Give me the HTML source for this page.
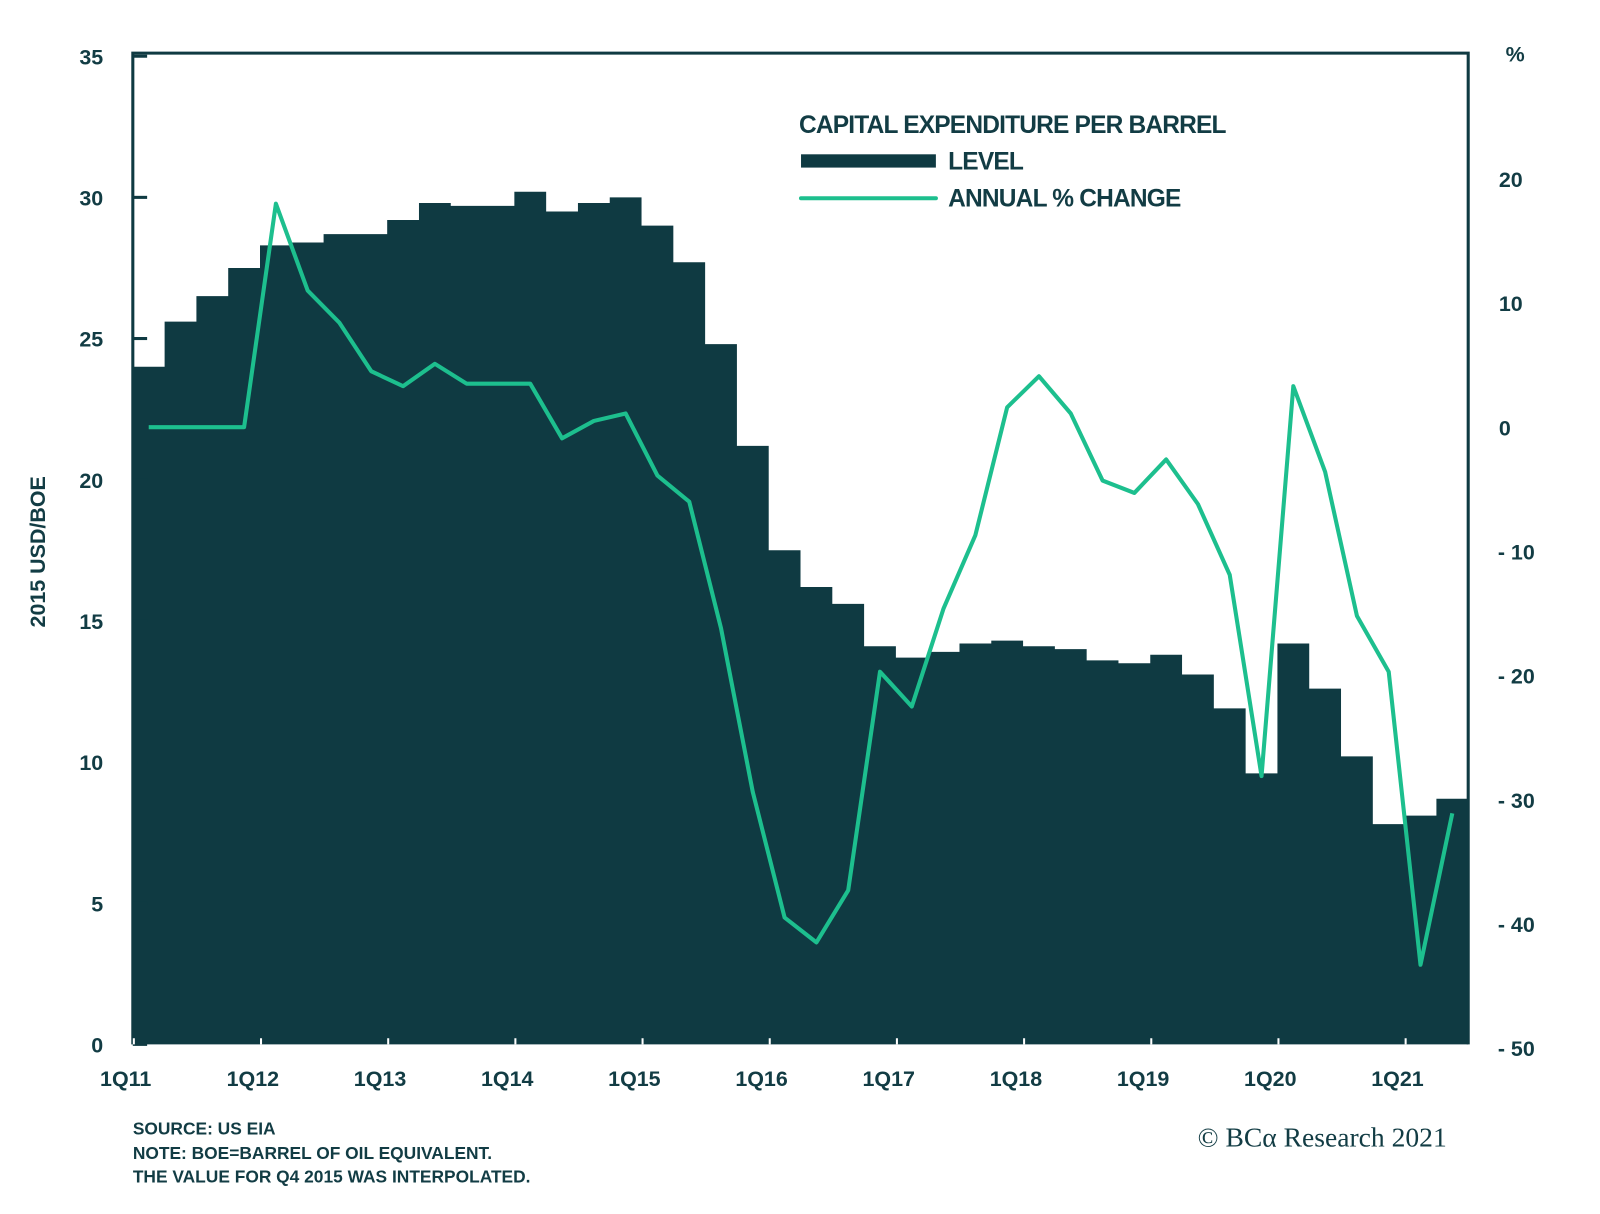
<!DOCTYPE html>
<html><head><meta charset="utf-8"><style>
html,body{margin:0;padding:0;background:#fff;}
svg{display:block;font-family:"Liberation Sans",sans-serif;}
</style></head><body>
<svg id="chart" width="1600" height="1214" viewBox="0 0 1566 1188" preserveAspectRatio="none" xmlns="http://www.w3.org/2000/svg">
<rect x="0" y="0" width="1566" height="1188" fill="#fff"/>
<g id="bars"></g>
<g id="frame"></g>
<g id="ticks"></g>
<polyline id="line" fill="none" stroke="#1dbf8e" stroke-width="4" stroke-linejoin="round"/>
<g id="yl" font-size="21" font-weight="bold" fill="#123c44" text-anchor="end"></g>
<g id="yr" font-size="21" font-weight="bold" fill="#123c44"></g>
<g id="xl" font-size="21" font-weight="bold" fill="#123c44" text-anchor="middle"></g>
<text x="1483" y="60" font-size="21" font-weight="bold" fill="#123c44" text-anchor="middle">%</text>
<text transform="translate(44,540) rotate(-90)" font-size="21" font-weight="bold" fill="#123c44" text-anchor="middle">2015 USD/BOE</text>
<g fill="#123c44" font-size="24" font-weight="bold" letter-spacing="-0.8">
<text x="782" y="130">CAPITAL EXPENDITURE PER BARREL</text>
<rect x="784" y="151" width="132" height="13" fill="#0f3a42"/>
<text x="928" y="166">LEVEL</text>
<line x1="784" y1="194" x2="916" y2="194" stroke="#1dbf8e" stroke-width="4" stroke-linecap="round"/>
<text x="928" y="202">ANNUAL % CHANGE</text>
</g>
<g fill="#123c44" font-size="17" font-weight="bold">
<text x="130" y="1110">SOURCE: US EIA</text>
<text x="130" y="1134">NOTE: BOE=BARREL OF OIL EQUIVALENT.</text>
<text x="130" y="1157">THE VALUE FOR Q4 2015 WAS INTERPOLATED.</text>
</g>
<text x="1416" y="1122" text-anchor="end" font-family="Liberation Serif,serif" font-size="27" fill="#123c44">© BCα Research 2021</text>
</svg>
<script>
const quarters = 42;
const levels = [24.0,25.6,26.5,27.5,28.3,28.4,28.7,28.7,29.2,29.8,29.7,29.7,30.2,29.5,29.8,30.0,29.0,27.7,24.8,21.2,17.5,16.2,15.6,14.1,13.7,13.9,14.2,14.3,14.1,14.0,13.6,13.5,13.8,13.1,11.9,9.6,14.2,12.6,10.2,7.8,8.1,8.7];
const changes = [0,0,0,0,18,11,8.4,4.5,3.3,5.1,3.5,3.5,3.5,-0.9,0.5,1.1,-3.9,-6.0,-16.2,-29.4,-39.5,-41.5,-37.3,-19.7,-22.5,-14.6,-8.7,1.6,4.1,1.1,-4.3,-5.3,-2.6,-6.2,-11.9,-28.1,3.3,-3.6,-15.2,-19.7,-43.3,-31.1];
const leftTicks = [0,5,10,15,20,25,30,35];
const rightTicks = [20,10,0,-10,-20,-30,-40,-50];
const yearLabels = ["1Q11","1Q12","1Q13","1Q14","1Q15","1Q16","1Q17","1Q18","1Q19","1Q20","1Q21"];
const NS="http://www.w3.org/2000/svg";
const X0=130,X1=1437,YB=1022,YT=55;
const bw=(X1-X0)/quarters;
const xs=i=>X0+i*bw;
const yL=v=>YB-v*(YB-YT)/35;
const yR=v=>418-v*12.15;
function mk(tag,attrs,parent){const e=document.createElementNS(NS,tag);for(const k in attrs)e.setAttribute(k,attrs[k]);document.getElementById(parent).appendChild(e);return e;}
let d=`M${X0},${YB}`;
levels.forEach((v,i)=>{d+=` L${xs(i)},${yL(v)} L${xs(i+1)},${yL(v)}`;});
d+=` L${X1},${YB} Z`;
const area=mk('path',{d:d,fill:'#0f3a42'},'bars');


const fr=mk('path',{d:`M${X0},${YB} L${X0},${YT-3} L${X1},${YT-3} L${X1},${YB}`,fill:'none',stroke:'#0f3a42','stroke-width':3},'frame');


document.getElementById('line').setAttribute('points',changes.map((v,i)=>`${xs(i)+bw/2},${yR(v)}`).join(' '));
leftTicks.forEach(v=>{const t=mk('text',{x:101,y:yL(v)+8},'yl');t.textContent=v;


const m=mk('line',{x1:X0,x2:X0+14,y1:yL(v),y2:yL(v),stroke:'#0f3a42','stroke-width':3},'frame');

});
rightTicks.forEach(v=>{const t=mk('text',{x:1466,y:yR(v)+8},'yr');t.textContent=v<0?'- '+Math.abs(v):String(v);
if(v>=0)t.setAttribute('x',1467);

});
yearLabels.forEach((l,k)=>{const x=xs(k*4);
const t=mk('text',{x:x-7,y:1063},'xl');t.textContent=l;


const m=mk('line',{x1:x+1,x2:x+1,y1:YB-6,y2:YB,stroke:'#fff','stroke-width':2},'ticks');

});
</script>
</body></html>
